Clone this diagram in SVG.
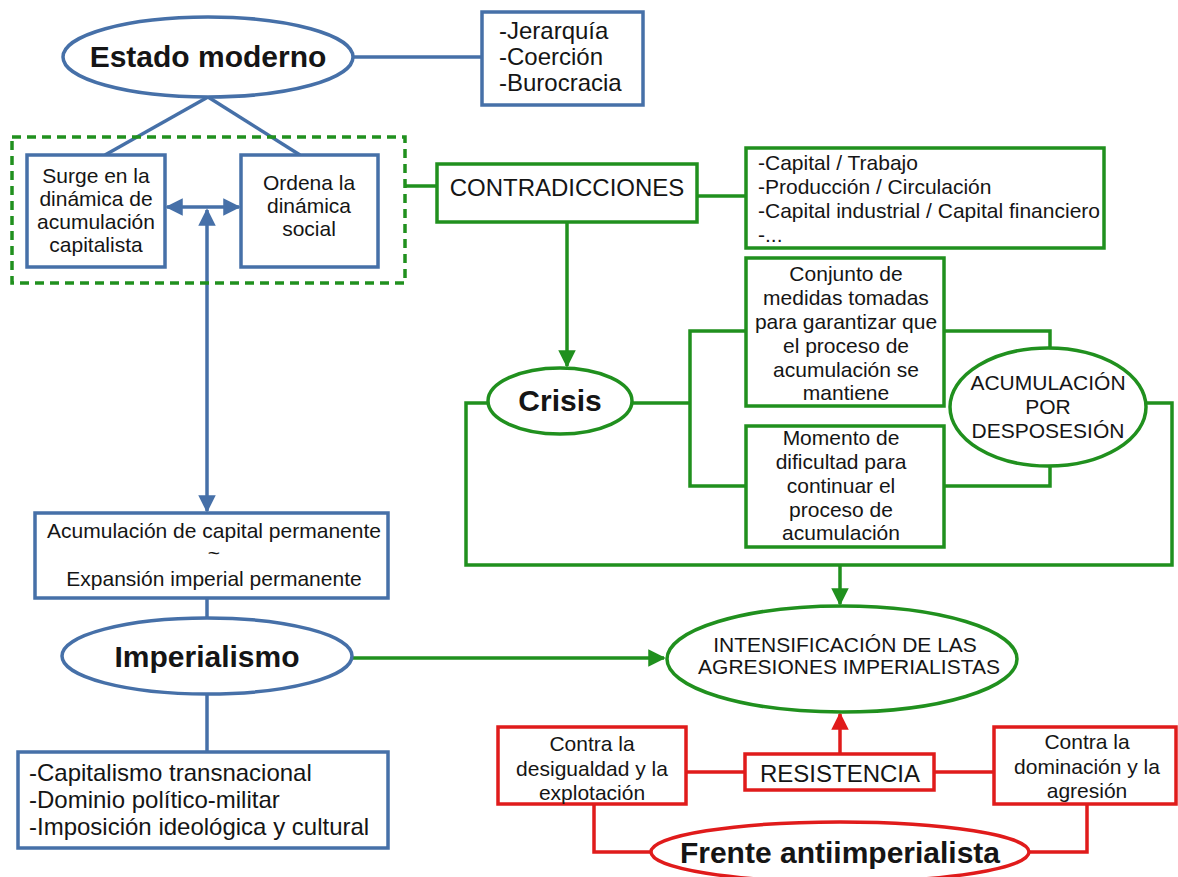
<svg xmlns="http://www.w3.org/2000/svg" width="1178" height="877" viewBox="0 0 1178 877">
<defs>
<style>
text{font-family:"Liberation Sans",Arial,sans-serif;fill:#151515;}
.t{font-size:21px;text-anchor:middle;}
.tl{font-size:24px;}
.tm{font-size:21px;}
.big{font-size:30px;font-weight:bold;text-anchor:middle;}
.b{fill:#fff;stroke:#4670a8;stroke-width:3.5;}
.g{fill:#fff;stroke:#20901e;stroke-width:3.5;}
.r{fill:#fff;stroke:#e01b1b;stroke-width:3.5;}
.lb{fill:none;stroke:#4670a8;stroke-width:3.5;}
.lg{fill:none;stroke:#20901e;stroke-width:3.5;}
.lr{fill:none;stroke:#e01b1b;stroke-width:3.5;}
</style>
<marker id="ab" viewBox="0 0 10 10" refX="9" refY="5" markerWidth="5" markerHeight="5" orient="auto-start-reverse" markerUnits="strokeWidth"><path d="M0,0 L10,5 L0,10 z" fill="#4670a8"/></marker>
<marker id="ag" viewBox="0 0 10 10" refX="9" refY="5" markerWidth="5" markerHeight="5" orient="auto" markerUnits="strokeWidth"><path d="M0,0 L10,5 L0,10 z" fill="#20901e"/></marker>
<marker id="ar" viewBox="0 0 10 10" refX="9" refY="5" markerWidth="5" markerHeight="5" orient="auto" markerUnits="strokeWidth"><path d="M0,0 L10,5 L0,10 z" fill="#e01b1b"/></marker>
</defs>
<rect width="1178" height="877" fill="#fff"/>

<g id="connectors">
<line class="lb" x1="353" y1="57" x2="482" y2="57"/>
<line class="lb" x1="208" y1="97" x2="105" y2="155"/>
<line class="lb" x1="208" y1="97" x2="300" y2="155"/>
<line class="lb" x1="167" y1="207" x2="239" y2="207" marker-start="url(#ab)" marker-end="url(#ab)"/>
<line class="lb" x1="207" y1="210" x2="207" y2="511" marker-start="url(#ab)" marker-end="url(#ab)"/>
<line class="lb" x1="207" y1="598" x2="207" y2="618"/>
<line class="lb" x1="207" y1="694" x2="207" y2="752"/>
<line class="lg" x1="352" y1="658" x2="664" y2="658" marker-end="url(#ag)"/>
<line class="lg" x1="405" y1="186" x2="437" y2="186"/>
<line class="lg" x1="697" y1="196" x2="746" y2="196"/>
<line class="lg" x1="567" y1="222" x2="567" y2="366" marker-end="url(#ag)"/>
<polyline class="lg" points="632,403 690,403"/>
<polyline class="lg" points="746,331 690,331 690,486 746,486"/>
<polyline class="lg" points="944,331 1050,331 1050,348"/>
<polyline class="lg" points="944,486 1050,486 1050,466"/>
<polyline class="lg" points="488,403 466,403 466,565 1172,565 1172,403 1146,403"/>
<line class="lg" x1="840" y1="565" x2="840" y2="604" marker-end="url(#ag)"/>
<line class="lr" x1="686" y1="772" x2="745" y2="772"/>
<line class="lr" x1="934" y1="772" x2="994" y2="772"/>
<line class="lr" x1="840" y1="754" x2="840" y2="714" marker-end="url(#ar)"/>
<polyline class="lr" points="594,804 594,852 652,852"/>
<polyline class="lr" points="1087,804 1087,852 1028,852"/>
</g>

<g id="estado-moderno">
<ellipse class="b" cx="208" cy="57" rx="145" ry="40"/>
<text class="big" x="208" y="67">Estado moderno</text>
</g>
<g id="rasgos">
<rect class="b" x="482" y="12" width="161" height="93"/>
<text class="tl" x="499" y="39">-Jerarquía</text>
<text class="tl" x="499" y="65">-Coerción</text>
<text class="tl" x="499" y="91">-Burocracia</text>
</g>
<g id="grupo-dashed">
<rect x="12" y="137" width="393" height="146" fill="none" stroke="#20901e" stroke-width="3.5" stroke-dasharray="9,6"/>
</g>
<g id="surge">
<rect class="b" x="27" y="155" width="138" height="112"/>
<text class="t" x="96" y="183">Surge en la</text>
<text class="t" x="96" y="206">dinámica de</text>
<text class="t" x="96" y="229">acumulación</text>
<text class="t" x="96" y="252">capitalista</text>
</g>
<g id="ordena">
<rect class="b" x="241" y="155" width="137" height="112"/>
<text class="t" x="309" y="190">Ordena la</text>
<text class="t" x="309" y="213">dinámica</text>
<text class="t" x="309" y="236">social</text>
</g>
<g id="acumulacion-capital">
<rect class="b" x="35" y="513" width="353" height="85"/>
<text class="t" x="214" y="538">Acumulación de capital permanente</text>
<text class="t" x="214" y="560">~</text>
<text class="t" x="214" y="586">Expansión imperial permanente</text>
</g>
<g id="imperialismo">
<ellipse class="b" cx="207" cy="656" rx="145" ry="38"/>
<text class="big" x="207" y="667">Imperialismo</text>
</g>
<g id="rasgos-imperialismo">
<rect class="b" x="18" y="752" width="370" height="96"/>
<text class="tl" x="29" y="781">-Capitalismo transnacional</text>
<text class="tl" x="29" y="808">-Dominio político-militar</text>
<text class="tl" x="29" y="835">-Imposición ideológica y cultural</text>
</g>
<g id="contradicciones">
<rect class="g" x="437" y="164" width="260" height="58"/>
<text class="t" x="567" y="196" style="font-size:24px">CONTRADICCIONES</text>
</g>
<g id="lista-contradicciones">
<rect class="g" x="746" y="148" width="358" height="100"/>
<text class="tm" x="758" y="170">-Capital / Trabajo</text>
<text class="tm" x="758" y="194">-Producción / Circulación</text>
<text class="tm" x="758" y="218">-Capital industrial / Capital financiero</text>
<text class="tm" x="758" y="242">-...</text>
</g>
<g id="crisis">
<ellipse class="g" cx="560" cy="401" rx="72" ry="33"/>
<text class="big" x="560" y="411">Crisis</text>
</g>
<g id="conjunto">
<rect class="g" x="746" y="258" width="198" height="148"/>
<text class="t" x="846" y="281">Conjunto de</text>
<text class="t" x="846" y="305">medidas tomadas</text>
<text class="t" x="846" y="329">para garantizar que</text>
<text class="t" x="846" y="353">el proceso de</text>
<text class="t" x="846" y="377">acumulación se</text>
<text class="t" x="846" y="400">mantiene</text>
</g>
<g id="momento">
<rect class="g" x="746" y="426" width="198" height="121"/>
<text class="t" x="841" y="445">Momento de</text>
<text class="t" x="841" y="469">dificultad para</text>
<text class="t" x="841" y="493">continuar el</text>
<text class="t" x="841" y="517">proceso de</text>
<text class="t" x="841" y="540">acumulación</text>
</g>
<g id="desposesion">
<ellipse class="g" cx="1048" cy="407" rx="98" ry="59"/>
<text class="t" x="1048" y="390">ACUMULACIÓN</text>
<text class="t" x="1048" y="414">POR</text>
<text class="t" x="1048" y="438">DESPOSESIÓN</text>
</g>
<g id="intensificacion">
<ellipse class="g" cx="842" cy="659" rx="175" ry="53"/>
<text class="t" x="845" y="652">INTENSIFICACIÓN DE LAS</text>
<text class="t" x="849" y="674">AGRESIONES IMPERIALISTAS</text>
</g>
<g id="desigualdad">
<rect class="r" x="498" y="727" width="188" height="77"/>
<text class="t" x="592" y="751">Contra la</text>
<text class="t" x="592" y="776">desigualdad y la</text>
<text class="t" x="592" y="800">explotación</text>
</g>
<g id="resistencia">
<rect class="r" x="745" y="754" width="189" height="36"/>
<text class="t" x="840" y="782" style="font-size:24px">RESISTENCIA</text>
</g>
<g id="dominacion">
<rect class="r" x="994" y="727" width="182" height="77"/>
<text class="t" x="1087" y="749">Contra la</text>
<text class="t" x="1087" y="774">dominación y la</text>
<text class="t" x="1087" y="798">agresión</text>
</g>
<g id="frente">
<ellipse class="r" cx="840" cy="852" rx="189" ry="30"/>
<text class="big" x="840" y="863">Frente antiimperialista</text>
</g>
</svg>
